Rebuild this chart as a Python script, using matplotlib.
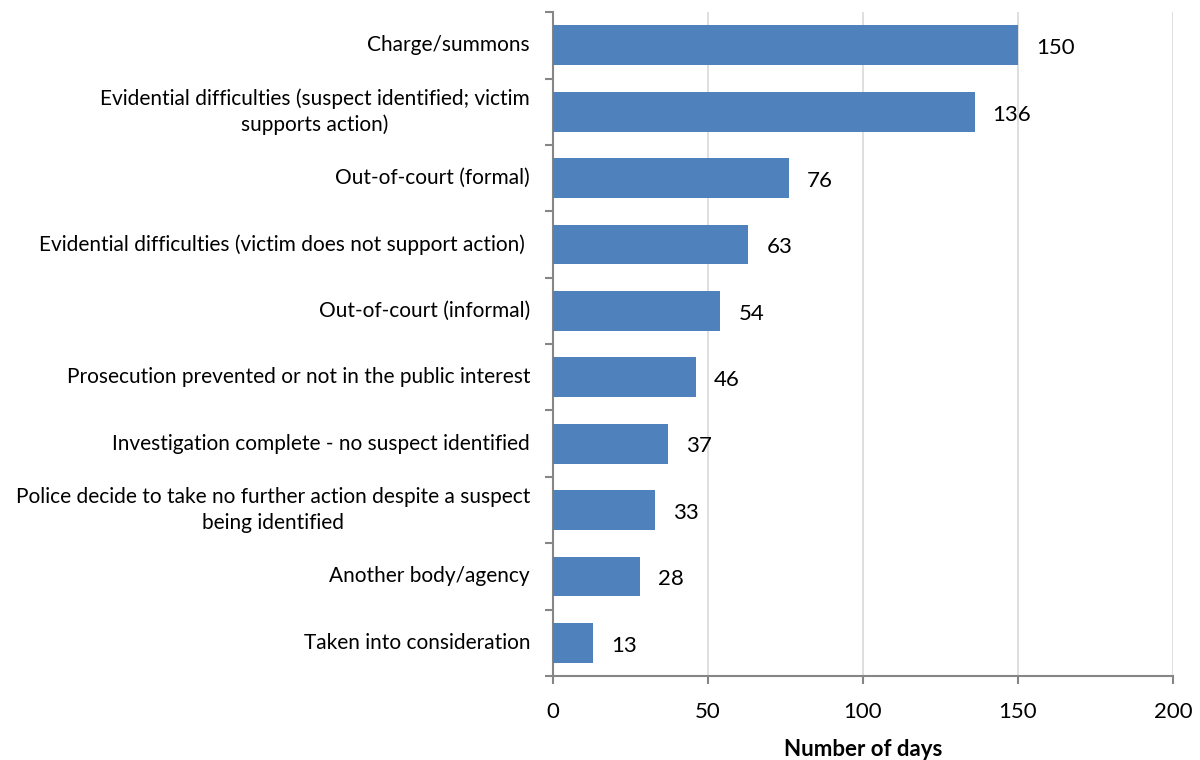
import numpy as np
import matplotlib.pyplot as plt

categories = ['Charge/summons',
              'Evidential difficulties (suspect identified; victim\nsupports action)',
              'Out-of-court (formal)',
              'Evidential difficulties (victim does not support action) ',
              'Out-of-court (informal)',
              'Prosecution prevented or not in the public interest',
              'Investigation complete - no suspect identified',
              'Police decide to take no further action despite a suspect\nbeing identified',
              'Another body/agency',
              'Taken into consideration']
days = [150, 136, 76, 63, 54, 46, 37, 33, 28, 13]
xticks = [0, 50, 100, 150, 200]

plt.rcParams['font.family'] = ['Lato', 'DejaVu Sans']

fig = plt.figure(figsize=(12, 7.6), dpi=100)
ax = fig.add_axes([0.4608, 0.1105, 0.5167, 0.8735])

y = np.arange(len(categories))
ax.barh(y, days, height=0.6, color='#4F81BD', zorder=3)
for yi, v in zip(y, days):
    ax.annotate(str(v), (v, yi), xytext=(13, -2), textcoords='offset points',
                va='center', ha='left', fontsize=16, color='black')

ax.set_ylim(len(categories) - 0.5, -0.5)
ax.set_xlim(0, 200)
ax.set_xticks(xticks)
ax.set_xticklabels([str(t) for t in xticks], fontsize=16)
ax.tick_params(axis='x', length=6, width=1.5, color='#868686', pad=13)

# category labels drawn separately so they sit between the boundary ticks
ax.set_yticks(np.arange(len(categories) + 1) - 0.5)
ax.set_yticklabels([])
ax.tick_params(axis='y', length=6, width=1.5, color='#868686')
for yi, c in zip(y, categories):
    ax.text(-0.037, yi, c, transform=ax.get_yaxis_transform(), ha='right',
            va='center', multialignment='center', fontsize=15, linespacing=1.35)

ax.grid(axis='x', color='#d9d9d9', linewidth=1.2, zorder=0)
for s in ['top', 'right']:
    ax.spines[s].set_visible(False)
for s in ['left', 'bottom']:
    ax.spines[s].set_color('#868686')
    ax.spines[s].set_linewidth(1.5)

ax.set_xlabel('Number of days', fontsize=16, fontweight='bold', labelpad=12)

fig.savefig('out.png', dpi=100)
